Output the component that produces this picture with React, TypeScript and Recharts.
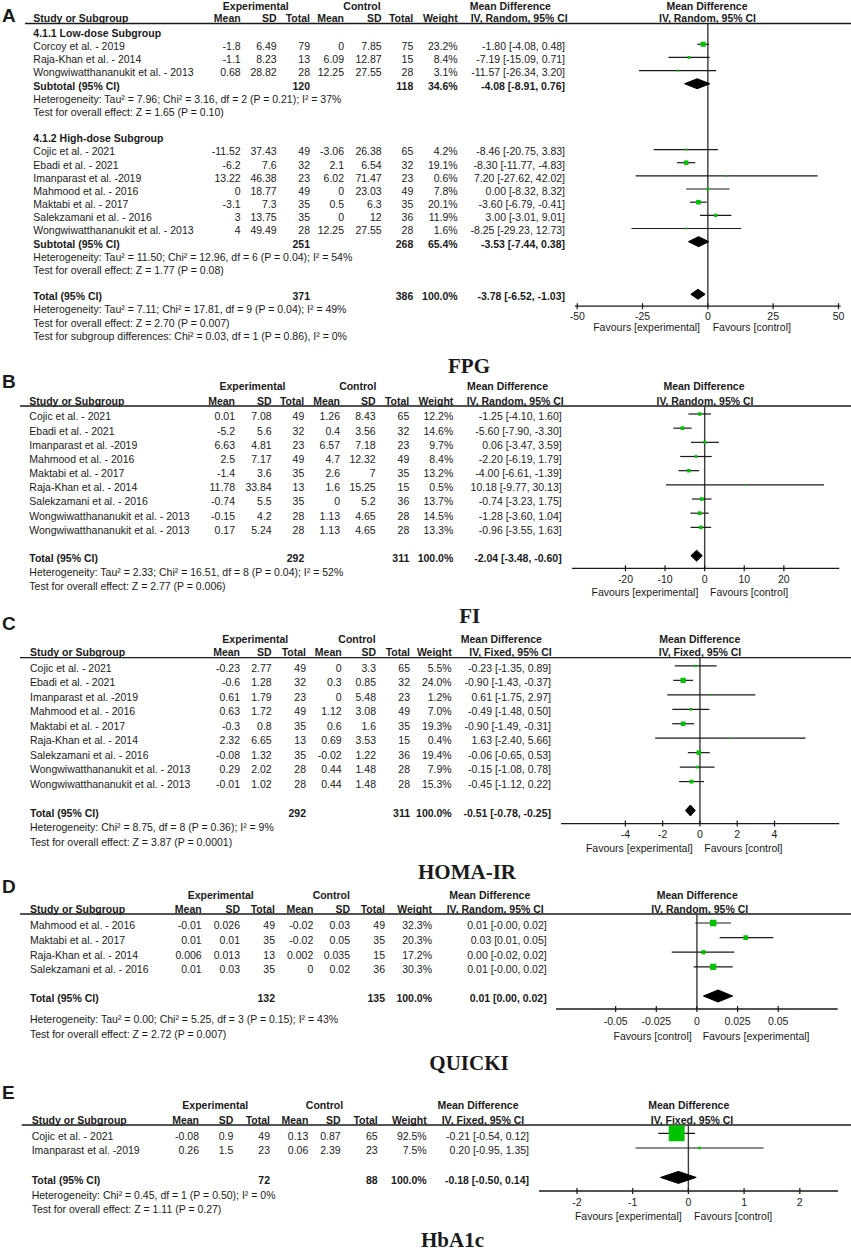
import React from 'react';
import { ScatterChart, Scatter, XAxis, YAxis, ErrorBar, ReferenceLine } from 'recharts';

// name, exp mean, exp SD, exp N, ctl mean, ctl SD, ctl N, weight %, MD, lower, upper
type Study = [string, number, number, number, number, number, number, number, number, number, number];
// exp N, ctl N, weight %, MD, lower, upper
type Pooled = [number, number, number, number, number, number];

// ---- A: FPG ----
const fpgLow: Study[] = [
  ['Corcoy et al. - 2019', -1.8, 6.49, 79, 0, 7.85, 75, 23.2, -1.8, -4.08, 0.48],
  ['Raja-Khan et al. - 2014', -1.1, 8.23, 13, 6.09, 12.87, 15, 8.4, -7.19, -15.09, 0.71],
  ['Wongwiwatthananukit et al. - 2013', 0.68, 28.82, 28, 12.25, 27.55, 28, 3.1, -11.57, -26.34, 3.2],
];
const fpgHigh: Study[] = [
  ['Cojic et al. - 2021', -11.52, 37.43, 49, -3.06, 26.38, 65, 4.2, -8.46, -20.75, 3.83],
  ['Ebadi et al. - 2021', -6.2, 7.6, 32, 2.1, 6.54, 32, 19.1, -8.3, -11.77, -4.83],
  ['Imanparast et al. -2019', 13.22, 46.38, 23, 6.02, 71.47, 23, 0.6, 7.2, -27.62, 42.02],
  ['Mahmood et al.  - 2016', 0, 18.77, 49, 0, 23.03, 49, 7.8, 0, -8.32, 8.32],
  ['Maktabi et al. - 2017', -3.1, 7.3, 35, 0.5, 6.3, 35, 20.1, -3.6, -6.79, -0.41],
  ['Salekzamani et al. - 2016', 3, 13.75, 35, 0, 12, 36, 11.9, 3, -3.01, 9.01],
  ['Wongwiwatthananukit et al. - 2013', 4, 49.49, 28, 12.25, 27.55, 28, 1.6, -8.25, -29.23, 12.73],
];
const fpgLowSub: Pooled = [120, 118, 34.6, -4.08, -8.91, 0.76];
const fpgHighSub: Pooled = [251, 268, 65.4, -3.53, -7.44, 0.38];
const fpgTotal: Pooled = [371, 386, 100, -3.78, -6.52, -1.03];
const fpgNotes = [
  'Heterogeneity: Tau² = 7.96; Chi² = 3.16, df = 2 (P = 0.21); I² = 37%',
  'Test for overall effect: Z = 1.65 (P = 0.10)',
  'Heterogeneity: Tau² = 11.50; Chi² = 12.96, df = 6 (P = 0.04); I² = 54%',
  'Test for overall effect: Z = 1.77 (P = 0.08)',
  'Heterogeneity: Tau² = 7.11; Chi² = 17.81, df = 9 (P = 0.04); I² = 49%',
  'Test for overall effect: Z = 2.70 (P = 0.007)',
  'Test for subgroup differences: Chi² = 0.03, df = 1 (P = 0.86), I² = 0%',
];
const fpgTicks = [-50, -25, 0, 25, 50];

// ---- B: FI ----
const fiStudies: Study[] = [
  ['Cojic et al. - 2021', 0.01, 7.08, 49, 1.26, 8.43, 65, 12.2, -1.25, -4.1, 1.6],
  ['Ebadi et al. - 2021', -5.2, 5.6, 32, 0.4, 3.56, 32, 14.6, -5.6, -7.9, -3.3],
  ['Imanparast et al. -2019', 6.63, 4.81, 23, 6.57, 7.18, 23, 9.7, 0.06, -3.47, 3.59],
  ['Mahmood et al.  - 2016', 2.5, 7.17, 49, 4.7, 12.32, 49, 8.4, -2.2, -6.19, 1.79],
  ['Maktabi et al. - 2017', -1.4, 3.6, 35, 2.6, 7, 35, 13.2, -4, -6.61, -1.39],
  ['Raja-Khan et al. - 2014', 11.78, 33.84, 13, 1.6, 15.25, 15, 0.5, 10.18, -9.77, 30.13],
  ['Salekzamani et al. - 2016', -0.74, 5.5, 35, 0, 5.2, 36, 13.7, -0.74, -3.23, 1.75],
  ['Wongwiwatthananukit et al. - 2013', -0.15, 4.2, 28, 1.13, 4.65, 28, 14.5, -1.28, -3.6, 1.04],
  ['Wongwiwatthananukit et al. - 2013', 0.17, 5.24, 28, 1.13, 4.65, 28, 13.3, -0.96, -3.55, 1.63],
];
const fiTotal: Pooled = [292, 311, 100, -2.04, -3.48, -0.6];
const fiNotes = [
  'Heterogeneity: Tau² = 2.33; Chi² = 16.51, df = 8 (P = 0.04); I² = 52%',
  'Test for overall effect: Z = 2.77 (P = 0.006)',
];
const fiTicks = [-20, -10, 0, 10, 20];

// ---- C: HOMA-IR ----
const homaStudies: Study[] = [
  ['Cojic et al. - 2021', -0.23, 2.77, 49, 0, 3.3, 65, 5.5, -0.23, -1.35, 0.89],
  ['Ebadi et al. - 2021', -0.6, 1.28, 32, 0.3, 0.85, 32, 24.0, -0.9, -1.43, -0.37],
  ['Imanparast et al. -2019', 0.61, 1.79, 23, 0, 5.48, 23, 1.2, 0.61, -1.75, 2.97],
  ['Mahmood et al.  - 2016', 0.63, 1.72, 49, 1.12, 3.08, 49, 7.0, -0.49, -1.48, 0.5],
  ['Maktabi et al. - 2017', -0.3, 0.8, 35, 0.6, 1.6, 35, 19.3, -0.9, -1.49, -0.31],
  ['Raja-Khan et al. - 2014', 2.32, 6.65, 13, 0.69, 3.53, 15, 0.4, 1.63, -2.4, 5.66],
  ['Salekzamani et al. - 2016', -0.08, 1.32, 35, -0.02, 1.22, 36, 19.4, -0.06, -0.65, 0.53],
  ['Wongwiwatthananukit et al. - 2013', 0.29, 2.02, 28, 0.44, 1.48, 28, 7.9, -0.15, -1.08, 0.78],
  ['Wongwiwatthananukit et al. - 2013', -0.01, 1.02, 28, 0.44, 1.48, 28, 15.3, -0.45, -1.12, 0.22],
];
const homaTotal: Pooled = [292, 311, 100, -0.51, -0.78, -0.25];
const homaNotes = [
  'Heterogeneity: Chi² = 8.75, df = 8 (P = 0.36); I² = 9%',
  'Test for overall effect: Z = 3.87 (P = 0.0001)',
];
const homaTicks = [-4, -2, 0, 2, 4];

// ---- D: QUICKI ----
const quickiStudies: Study[] = [
  ['Mahmood et al.  - 2016', -0.01, 0.026, 49, -0.02, 0.03, 49, 32.3, 0.01, -0.001, 0.021],
  ['Maktabi et al. - 2017', 0.01, 0.01, 35, -0.02, 0.05, 35, 20.3, 0.03, 0.014, 0.047],
  ['Raja-Khan et al. - 2014', 0.006, 0.013, 13, 0.002, 0.035, 15, 17.2, 0.004, -0.0155, 0.023],
  ['Salekzamani et al. - 2016', 0.01, 0.03, 35, 0, 0.02, 36, 30.3, 0.01, -0.002, 0.022],
];
const quickiTotal: Pooled = [132, 135, 100, 0.013, 0.004, 0.022];
const quickiNotes = [
  'Heterogeneity: Tau² = 0.00; Chi² = 5.25, df = 3 (P = 0.15); I² = 43%',
  'Test for overall effect: Z = 2.72 (P = 0.007)',
];
const quickiTicks = [-0.05, -0.025, 0, 0.025, 0.05];

// ---- E: HbA1c ----
const hba1cStudies: Study[] = [
  ['Cojic et al. - 2021', -0.08, 0.9, 49, 0.13, 0.87, 65, 92.5, -0.21, -0.54, 0.12],
  ['Imanparast et al. -2019', 0.26, 1.5, 23, 0.06, 2.39, 23, 7.5, 0.2, -0.95, 1.35],
];
const hba1cTotal: Pooled = [72, 88, 100, -0.18, -0.5, 0.14];
const hba1cNotes = [
  'Heterogeneity: Chi² = 0.45, df = 1 (P = 0.50); I² = 0%',
  'Test for overall effect: Z = 1.11 (P = 0.27)',
];
const hba1cTicks = [-2, -1, 0, 1, 2];

const FONT = '"Liberation Sans", Arial, Helvetica, sans-serif';
const SERIF = '"Liberation Serif", "Times New Roman", serif';
const INK = '#1a1a1a';
const GREEN = '#00c300';

const f2 = (v: number) => v.toFixed(2);
const ciText = (md: number, lo: number, hi: number) => `${f2(md)} [${f2(lo)}, ${f2(hi)}]`;
const pct = (w: number) => `${w.toFixed(1)}%`;

type Row =
  | { kind: 'group'; r: number; text: string }
  | { kind: 'study'; r: number; s: Study }
  | { kind: 'pooled'; r: number; label: string; t: Pooled }
  | { kind: 'note'; r: number; text: string };

const studyRows = (list: Study[], r0: number): Row[] =>
  list.map((s, i) => ({ kind: 'study', r: r0 + i, s }));

interface Layout {
  letter: string; letterY: number;
  expX: number; ctlX: number; mdX: number; plotX: number; head1Y: number;
  head2Y: number; lineY: number; lineX: number; nameX: number;
  cols: number[]; ivX: number; plotIvX: number; ivLabel: string;
  rowY0: number; rowDy: number;
  title: string; titleX: number; titleY: number;
  favY: number; favLX: number; favRX: number; favL: string; favR: string;
  axL: number; axR: number; dom: [number, number]; ticks: number[]; axisY: number; tickDy: number;
  dh: number;
}

const panels: { L: Layout; rows: Row[] }[] = [
  {
    L: {
      letter: 'A', letterY: 21.7,
      expX: 255.8, ctlX: 362, mdX: 510.3, plotX: 707, head1Y: 9.8,
      head2Y: 22.3, lineY: 23.5, lineX: 25, nameX: 33.3,
      cols: [240.7, 276.7, 310, 344, 381.7, 413.3, 457.7, 565],
      ivX: 470.7, plotIvX: 707.5, ivLabel: 'IV, Random, 95% CI',
      rowY0: 33.3, rowDy: 13.16,
      title: 'FPG', titleX: 448, titleY: 373.3,
      favY: 330.5, favLX: 700, favRX: 712.7, favL: 'Favours [experimental]', favR: 'Favours [control]',
      axL: 575, axR: 840.7, dom: [-50.85, 50.85], ticks: fpgTicks, axisY: 305.7, tickDy: 13.7,
      dh: 5,
    },
    rows: [
      { kind: 'group', r: 0, text: '4.1.1 Low-dose Subgroup' },
      ...studyRows(fpgLow, 1),
      { kind: 'pooled', r: 4, label: 'Subtotal (95% CI)', t: fpgLowSub },
      { kind: 'note', r: 5, text: fpgNotes[0] },
      { kind: 'note', r: 6, text: fpgNotes[1] },
      { kind: 'group', r: 8, text: '4.1.2 High-dose Subgroup' },
      ...studyRows(fpgHigh, 9),
      { kind: 'pooled', r: 16, label: 'Subtotal (95% CI)', t: fpgHighSub },
      { kind: 'note', r: 17, text: fpgNotes[2] },
      { kind: 'note', r: 18, text: fpgNotes[3] },
      { kind: 'pooled', r: 20, label: 'Total (95% CI)', t: fpgTotal },
      { kind: 'note', r: 21, text: fpgNotes[4] },
      { kind: 'note', r: 22, text: fpgNotes[5] },
      { kind: 'note', r: 23, text: fpgNotes[6] },
    ],
  },
  {
    L: {
      letter: 'B', letterY: 388.3,
      expX: 252.5, ctlX: 357.8, mdX: 507.5, plotX: 704, head1Y: 390.4,
      head2Y: 404.5, lineY: 406, lineX: 20, nameX: 29.3,
      cols: [235, 271.7, 304.3, 340, 375.7, 409.3, 453.3, 561.7],
      ivX: 466.7, plotIvX: 705, ivLabel: 'IV, Random, 95% CI',
      rowY0: 416.7, rowDy: 14.17,
      title: 'FI', titleX: 459.3, titleY: 623.3,
      favY: 596, favLX: 698.3, favRX: 710, favL: 'Favours [experimental]', favR: 'Favours [control]',
      axL: 571.7, axR: 839, dom: [-33.5, 34], ticks: fiTicks, axisY: 568.3, tickDy: 14.7,
      dh: 5.5,
    },
    rows: [
      ...studyRows(fiStudies, 0),
      { kind: 'pooled', r: 10, label: 'Total (95% CI)', t: fiTotal },
      { kind: 'note', r: 11, text: fiNotes[0] },
      { kind: 'note', r: 12, text: fiNotes[1] },
    ],
  },
  {
    L: {
      letter: 'C', letterY: 629.5,
      expX: 255.3, ctlX: 357, mdX: 501.3, plotX: 699.7, head1Y: 642.7,
      head2Y: 656.3, lineY: 657.7, lineX: 20, nameX: 30,
      cols: [240, 271.7, 306, 341.7, 376, 410, 451.7, 551],
      ivX: 469.3, plotIvX: 700, ivLabel: 'IV, Fixed, 95% CI',
      rowY0: 668.3, rowDy: 14.46,
      title: 'HOMA-IR', titleX: 418, titleY: 879.3,
      favY: 852, favLX: 692.7, favRX: 704.3, favL: 'Favours [experimental]', favR: 'Favours [control]',
      axL: 560.7, axR: 839, dom: [-7.453, 7.475], ticks: homaTicks, axisY: 823.3, tickDy: 14.7,
      dh: 5.5,
    },
    rows: [
      ...studyRows(homaStudies, 0),
      { kind: 'pooled', r: 10, label: 'Total (95% CI)', t: homaTotal },
      { kind: 'note', r: 11, text: homaNotes[0] },
      { kind: 'note', r: 12, text: homaNotes[1] },
    ],
  },
  {
    L: {
      letter: 'D', letterY: 892.7,
      expX: 220.7, ctlX: 331.3, mdX: 489.7, plotX: 697.2, head1Y: 898.7,
      head2Y: 912.7, lineY: 914, lineX: 20, nameX: 30,
      cols: [201.7, 240, 275, 313.3, 350, 385, 432, 546.7],
      ivX: 446.7, plotIvX: 699.7, ivLabel: 'IV, Random, 95% CI',
      rowY0: 925.7, rowDy: 14.6,
      title: 'QUICKI', titleX: 429.3, titleY: 1069.5,
      favY: 1040.4, favLX: 691.7, favRX: 702.7, favL: 'Favours [control]', favR: 'Favours [experimental]',
      axL: 556, axR: 837.7, dom: [-0.0867, 0.0866], ticks: quickiTicks, axisY: 1009, tickDy: 16,
      dh: 6,
    },
    rows: [
      ...studyRows(quickiStudies, 0),
      { kind: 'pooled', r: 5, label: 'Total (95% CI)', t: quickiTotal },
      { kind: 'note', r: 6.41, text: quickiNotes[0] },
      { kind: 'note', r: 7.42, text: quickiNotes[1] },
    ],
  },
  {
    L: {
      letter: 'E', letterY: 1099.3,
      expX: 215.3, ctlX: 324.5, mdX: 478, plotX: 688.7, head1Y: 1108.7,
      head2Y: 1123.5, lineY: 1125, lineX: 21.7, nameX: 31.7,
      cols: [199, 233.3, 270, 308.3, 340.7, 377.7, 426.7, 529],
      ivX: 441.7, plotIvX: 692, ivLabel: 'IV, Fixed, 95% CI',
      rowY0: 1136, rowDy: 14.7,
      title: 'HbA1c', titleX: 421, titleY: 1247,
      favY: 1220.4, favLX: 681.7, favRX: 694, favL: 'Favours [experimental]', favR: 'Favours [control]',
      axL: 539.3, axR: 838.3, dom: [-2.682, 2.686], ticks: hba1cTicks, axisY: 1191, tickDy: 15.4,
      dh: 6,
    },
    rows: [
      ...studyRows(hba1cStudies, 0),
      { kind: 'pooled', r: 3, label: 'Total (95% CI)', t: hba1cTotal },
      { kind: 'note', r: 4, text: hba1cNotes[0] },
      { kind: 'note', r: 5, text: hba1cNotes[1] },
    ],
  },
];

const headCols = ['Mean', 'SD', 'Total', 'Mean', 'SD', 'Total', 'Weight'];

function PanelText({ L, rows }: { L: Layout; rows: Row[] }) {
  const base = (r: number) => L.rowY0 + L.rowDy * r + 3.7;
  return (
    <g fontFamily={FONT} fontSize={10.5} fill={INK} style={{ whiteSpace: 'pre' }}>
      <text x={2} y={L.letterY} fontSize={19} fontWeight={700}>{L.letter}</text>
      <g fontWeight={700}>
        <text x={L.expX} y={L.head1Y} textAnchor="middle">Experimental</text>
        <text x={L.ctlX} y={L.head1Y} textAnchor="middle">Control</text>
        <text x={L.mdX} y={L.head1Y} textAnchor="middle">Mean Difference</text>
        <text x={L.plotX} y={L.head1Y} textAnchor="middle">Mean Difference</text>
        <text x={L.nameX} y={L.head2Y}>Study or Subgroup</text>
        {headCols.map((h, j) => (
          <text key={j} x={L.cols[j]} y={L.head2Y} textAnchor="end">{h}</text>
        ))}
        <text x={L.ivX} y={L.head2Y}>{L.ivLabel}</text>
        <text x={L.plotIvX} y={L.head2Y} textAnchor="middle">{L.ivLabel}</text>
      </g>
      <line x1={L.lineX} x2={851} y1={L.lineY} y2={L.lineY} stroke={INK} strokeWidth={1.3} />
      {rows.map((row, i) => {
        const y = base(row.r);
        if (row.kind === 'group') return <text key={i} x={L.nameX} y={y} fontWeight={700}>{row.text}</text>;
        if (row.kind === 'note') return <text key={i} x={L.nameX} y={y}>{row.text}</text>;
        if (row.kind === 'study') {
          const s = row.s;
          const vals = [s[1], s[2], s[3], s[4], s[5], s[6]].map(String);
          return (
            <g key={i}>
              <text x={L.nameX} y={y}>{s[0]}</text>
              {vals.map((v, j) => (
                <text key={j} x={L.cols[j]} y={y} textAnchor="end">{v}</text>
              ))}
              <text x={L.cols[6]} y={y} textAnchor="end">{pct(s[7])}</text>
              <text x={L.cols[7]} y={y} textAnchor="end">{ciText(s[8], s[9], s[10])}</text>
            </g>
          );
        }
        const t = row.t;
        return (
          <g key={i} fontWeight={700}>
            <text x={L.nameX} y={y}>{row.label}</text>
            <text x={L.cols[2]} y={y} textAnchor="end">{t[0]}</text>
            <text x={L.cols[5]} y={y} textAnchor="end">{t[1]}</text>
            <text x={L.cols[6]} y={y} textAnchor="end">{pct(t[2])}</text>
            <text x={L.cols[7]} y={y} textAnchor="end">{ciText(t[3], t[4], t[5])}</text>
          </g>
        );
      })}
      <text x={L.favLX} y={L.favY} textAnchor="end">{L.favL}</text>
      <text x={L.favRX} y={L.favY}>{L.favR}</text>
      <text x={L.titleX} y={L.titleY} fontFamily={SERIF} fontSize={21} fontWeight={700}>{L.title}</text>
    </g>
  );
}

const AxisTick = (p: any) => (
  <g>
    <line x1={p.x} x2={p.x} y1={p.y - 3} y2={p.y + 3} stroke={INK} strokeWidth={1.2} />
    <text x={p.x} y={p.y + p.off} textAnchor="middle" fontSize={10.5} fontFamily={FONT} fill={INK}>
      {p.payload.value}
    </text>
  </g>
);

const Square = (p: any) => {
  const s = 1.5 + 0.155 * p.payload.w;
  return <rect x={p.cx - s / 2} y={p.cy - s / 2} width={s} height={s} fill={GREEN} />;
};

const Empty = () => <g />;

function PanelPlot({ L, rows }: { L: Layout; rows: Row[] }) {
  const markY0 = L.rowY0 - 2.7;
  const rTop = (L.lineY - markY0) / L.rowDy;
  const rBot = (L.axisY - markY0) / L.rowDy;
  const hr = L.dh / L.rowDy;
  const pad = 20;
  const axH = 30;
  const width = L.axR - L.axL + pad * 2;
  const height = L.axisY - L.lineY + axH;

  const studies = rows
    .filter((r): r is Extract<Row, { kind: 'study' }> => r.kind === 'study')
    .map((r) => ({ x: r.s[8], y: r.r, w: r.s[7], err: [r.s[8] - r.s[9], r.s[10] - r.s[8]] }));
  const diamonds = rows
    .filter((r): r is Extract<Row, { kind: 'pooled' }> => r.kind === 'pooled')
    .map((r) => [
      { x: r.t[4], y: r.r },
      { x: r.t[3], y: r.r - hr },
      { x: r.t[5], y: r.r },
      { x: r.t[3], y: r.r + hr },
      { x: r.t[4], y: r.r },
    ]);

  return (
    <div style={{ position: 'absolute', left: L.axL - pad, top: L.lineY }}>
      <ScatterChart width={width} height={height} margin={{ top: 0, right: pad, bottom: 0, left: pad }}>
        <XAxis
          type="number"
          dataKey="x"
          domain={L.dom}
          ticks={L.ticks}
          allowDataOverflow
          interval={0}
          height={axH}
          tickSize={0}
          tickMargin={0}
          tickLine={false}
          axisLine={{ stroke: INK, strokeWidth: 1.3 }}
          tick={(p: any) => <AxisTick {...p} off={L.tickDy} />}
        />
        <YAxis type="number" dataKey="y" domain={[rTop, rBot]} reversed hide allowDataOverflow width={0} />
        <ReferenceLine x={0} stroke="#3a3a3a" strokeWidth={1.4} />
        {diamonds.map((d, i) => (
          <Scatter
            key={i}
            data={d}
            line={{ fill: '#000', stroke: '#000', strokeWidth: 1 }}
            lineType="joint"
            lineJointType="linear"
            shape={Empty}
            isAnimationActive={false}
          />
        ))}
        <Scatter data={studies} shape={Square} isAnimationActive={false}>
          <ErrorBar dataKey="err" direction="x" width={0} stroke={INK} strokeWidth={1.2} isAnimationActive={false} />
        </Scatter>
      </ScatterChart>
    </div>
  );
}

export default function App() {
  return (
    <div style={{ position: 'absolute', left: 0, top: 0, width: 851, height: 1251, background: '#fff', overflow: 'hidden' }}>
      <svg width={851} height={1251} style={{ position: 'absolute', left: 0, top: 0 }}>
        {panels.map((p, i) => (
          <PanelText key={i} L={p.L} rows={p.rows} />
        ))}
      </svg>
      {panels.map((p, i) => (
        <PanelPlot key={i} L={p.L} rows={p.rows} />
      ))}
    </div>
  );
}
